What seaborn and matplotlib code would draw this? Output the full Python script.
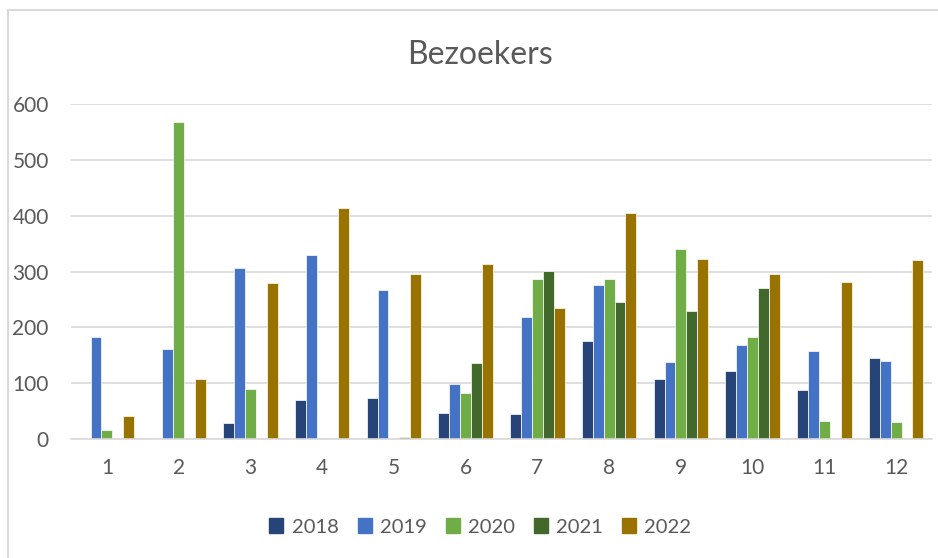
import seaborn as sns
import matplotlib.pyplot as plt
import pandas as pd
from matplotlib.patches import Rectangle

# visitors per month
months = [1, 2, 3, 4, 5, 6, 7, 8, 9, 10, 11, 12]
years = ["2018", "2019", "2020", "2021", "2022"]
v2018 = [0, 0, 29, 70, 73, 47, 44, 176, 108, 122, 87, 145]
v2019 = [182, 162, 306, 330, 266, 98, 218, 276, 138, 169, 158, 139]
v2020 = [17, 567, 89, 0, 0, 82, 287, 287, 340, 182, 32, 31]
v2021 = [0, 0, 0, 0, 3, 137, 301, 246, 230, 270, 0, 0]
v2022 = [42, 108, 280, 414, 295, 313, 234, 404, 322, 295, 282, 320]
colors = ["#264478", "#4472C4", "#70AD47", "#43682B", "#997300"]

rows = []
for y, vals in zip(years, [v2018, v2019, v2020, v2021, v2022]):
    for m, v in zip(months, vals):
        rows.append({"maand": str(m), "jaar": y, "bezoekers": v})
df = pd.DataFrame(rows)

sns.set_theme(style="white")
plt.rcParams['font.family'] = ['Lato', 'DejaVu Sans']
txt = "#595959"

fig = plt.figure(figsize=(9.38, 5.58), dpi=100)
ax = fig.add_axes([71/938, 1-439/558, (932-71)/938, (439-104)/558])

sns.barplot(data=df, x="maand", y="bezoekers", hue="jaar", palette=colors,
            saturation=1, width=0.76, edgecolor="white", linewidth=0.5,
            ax=ax, legend=False)

ax.set_ylim(0, 600)
ax.set_yticks([0, 100, 200, 300, 400, 500, 600])
ax.yaxis.grid(True, color="#D9D9D9", linewidth=1.2)
ax.set_axisbelow(True)
for s in ["top", "right", "left"]:
    ax.spines[s].set_visible(False)
ax.spines["bottom"].set_color("#D9D9D9")
ax.spines["bottom"].set_linewidth(1.2)
ax.tick_params(axis="both", length=0, labelsize=15, colors=txt)
ax.tick_params(axis="y", pad=16)
ax.tick_params(axis="x", pad=14)
ax.set_xlabel("")
ax.set_ylabel("")

fig.text(0.512, 1-55/558, "Bezoekers", ha="center", va="center",
         fontsize=23, color=txt)

handles = [Rectangle((0, 0), 1, 1, color=c) for c in colors]
fig.legend(handles, years, loc="center", bbox_to_anchor=(0.512, 1-527/558),
           ncol=5, frameon=False, fontsize=14.5, labelcolor=txt,
           handlelength=0.7, handleheight=0.7, handletextpad=0.4,
           columnspacing=0.95)

# chart border like the spreadsheet chart area
fig.patches.append(Rectangle((8/938, -0.1), 1.2, 1-10/558+0.1,
                             transform=fig.transFigure, fill=False,
                             edgecolor="#D9D9D9", linewidth=1.5))

plt.savefig("out.png", dpi=100)
